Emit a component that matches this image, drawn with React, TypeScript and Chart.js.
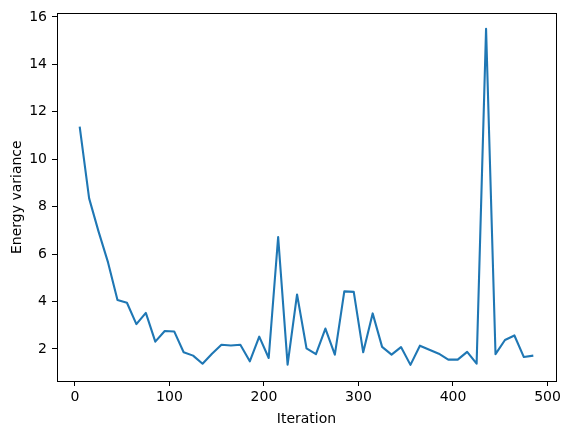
import React, { useEffect, useRef } from "react";
import { Chart, registerables } from "chart.js";

Chart.register(...registerables);

const iterations = [
  5, 15, 25, 35, 45, 55, 65, 75, 85, 95,
  105, 115, 125, 135, 145, 155, 165, 175, 185, 195,
  205, 215, 225, 235, 245, 255, 265, 275, 285, 295,
  305, 315, 325, 335, 345, 355, 365, 375, 385, 395,
  405, 415, 425, 435, 445, 455, 465, 475, 485,
];

const energyVariance = [
  11.38, 8.35, 6.95, 5.65, 4.07, 3.95, 3.05, 3.52, 2.31, 2.76,
  2.74, 1.86, 1.72, 1.38, 1.8, 2.18, 2.15, 2.18, 1.48, 2.52,
  1.62, 6.72, 1.34, 4.3, 2.03, 1.78, 2.86, 1.76, 4.43, 4.41,
  1.86, 3.5, 2.09, 1.76, 2.08, 1.33, 2.14, 1.97, 1.8, 1.55,
  1.55, 1.88, 1.38, 15.5, 1.78, 2.38, 2.57, 1.66, 1.72,
];

const xTicks = [0, 100, 200, 300, 400, 500];
const yTicks = [2, 4, 6, 8, 10, 12, 14, 16];

const xLabel = "Iteration";
const yLabel = "Energy variance";

const FONT = "'DejaVu Sans', sans-serif";

const framePlugin = {
  id: "frame",
  afterDraw(chart: any) {
    const { ctx, chartArea } = chart;
    ctx.save();
    ctx.strokeStyle = "#000";
    ctx.lineWidth = 1;
    ctx.strokeRect(
      Math.round(chartArea.left) + 0.5,
      Math.round(chartArea.top) + 0.5,
      Math.round(chartArea.right - chartArea.left),
      Math.round(chartArea.bottom - chartArea.top)
    );
    ctx.restore();
  },
};

export default function App() {
  const ref = useRef<HTMLCanvasElement | null>(null);

  useEffect(() => {
    if (!ref.current) return;
    const chart = new Chart(ref.current, {
      type: "line",
      data: {
        datasets: [
          {
            data: iterations.map((x, i) => ({ x, y: energyVariance[i] })),
            borderColor: "#1f77b4",
            backgroundColor: "#1f77b4",
            borderWidth: 2.1,
            borderJoinStyle: "round",
            borderCapStyle: "butt",
            pointRadius: 0,
            tension: 0,
            fill: false,
          },
        ],
      },
      options: {
        responsive: false,
        animation: false,
        devicePixelRatio: 1,
        layout: { padding: { top: 12, right: 12, left: 0, bottom: 0 } },
        plugins: {
          legend: { display: false },
          tooltip: { enabled: false },
        },
        scales: {
          x: {
            type: "linear",
            min: -19,
            max: 509,
            afterBuildTicks: (scale: any) => {
              scale.ticks = xTicks.map((v) => ({ value: v }));
            },
            afterFit: (scale: any) => {
              scale.height = 53;
            },
            border: { display: false },
            grid: {
              drawOnChartArea: false,
              drawTicks: true,
              tickLength: 5,
              tickWidth: 1,
              tickColor: "#000",
            },
            ticks: {
              color: "#000",
              padding: 3,
              maxRotation: 0,
              font: { family: FONT, size: 14 },
              callback: (v: any) => String(v),
            },
            title: {
              display: true,
              text: xLabel,
              color: "#000",
              font: { family: FONT, size: 14 },
              padding: { top: 0, bottom: 6.6 },
            },
          },
          y: {
            type: "linear",
            min: 0.65,
            max: 16.15,
            afterBuildTicks: (scale: any) => {
              scale.ticks = yTicks.map((v) => ({ value: v }));
            },
            afterFit: (scale: any) => {
              scale.width = 57;
            },
            border: { display: false },
            grid: {
              drawOnChartArea: false,
              drawTicks: true,
              tickLength: 5,
              tickWidth: 1,
              tickColor: "#000",
            },
            ticks: {
              color: "#000",
              padding: 5,
              font: { family: FONT, size: 14 },
              callback: (v: any) => String(v),
            },
            title: {
              display: true,
              text: yLabel,
              color: "#000",
              font: { family: FONT, size: 14 },
              padding: { top: 9, bottom: 0 },
            },
          },
        },
      } as any,
      plugins: [framePlugin],
    });
    return () => chart.destroy();
  }, []);

  return (
    <div style={{ position: "absolute", left: 0, top: 0, width: 568, height: 434, background: "#fff" }}>
      <canvas ref={ref} width={568} height={434} style={{ display: "block", width: 568, height: 434 }} />
    </div>
  );
}
